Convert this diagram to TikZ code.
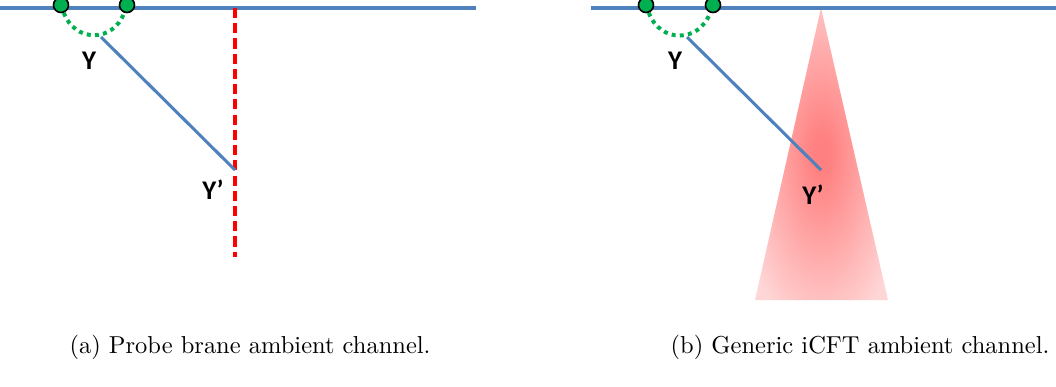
\documentclass[tikz,border=0pt]{standalone}
\usepackage{fontspec}
\newfontfamily\labelfont{Carlito}
\usepackage{tikz}
\usetikzlibrary{shadings}

\definecolor{braneblue}{RGB}{79,129,189}
\definecolor{pointgreen}{RGB}{0,176,80}
\definecolor{coneinner}{RGB}{255,128,128}
\definecolor{coneouter}{RGB}{255,214,214}
\pgfdeclareradialshading{cone}{\pgfpoint{0bp}{0bp}}{%
  color(0bp)=(coneinner); color(3bp)=(coneinner); color(32bp)=(coneouter); color(50bp)=(coneouter)}

\tikzset{
  brane/.style={braneblue, line width=1.3pt},
  geodesic/.style={pointgreen, line width=1.7pt, dash pattern=on 1.7pt off 1.8pt},
  insertion/.style={circle, draw=black, fill=pointgreen, line width=0.7pt, minimum size=6.4pt, inner sep=0pt},
  ylabel/.style={font=\labelfont\bfseries\fontsize{11.5}{12}\selectfont, inner sep=0pt},
  caption/.style={font=\fontsize{10.45}{12}\selectfont, inner sep=0pt}
}

\begin{document}
\begin{tikzpicture}[x=0.015cm, y=-0.015cm]
  \useasboundingbox (0,0) rectangle (1056,386);

  % (a) probe brane
  \coordinate (la) at (0,8);
  \coordinate (ra) at (476,8);
  \coordinate (ya) at (101,37);
  \coordinate (ypa) at (235,170);
  \coordinate (topa) at (235,8);
  \coordinate (bota) at (235,257);

  \draw [brane] (la) -- (ra);
  \draw [red, line width=1.3pt, dash pattern=on 4.3pt off 2.2pt] (topa) -- (bota);
  \draw [brane] (ya) -- (ypa);
  \node [insertion] (x1a) at (61,5) {};
  \node [insertion] (x2a) at (127,5) {};
  \draw [geodesic] (x1a.-70) to[out=-70, in=-110, looseness=1.35] (x2a.-110);
  \node [ylabel] (Ya) at (89,61) {Y};
  \node [ylabel] (Ypa) at (213,190) {Y’};

  % (b) generic iCFT
  \coordinate (lb) at (591,8);
  \coordinate (rb) at (1056,8);
  \coordinate (yb) at (687,37);
  \coordinate (ypb) at (821,170);
  \coordinate (apex) at (821,8);
  \coordinate (basel) at (755,300);
  \coordinate (baser) at (888,300);

  \shade [shading=cone] (apex) -- (baser) -- (basel) -- cycle;
  \draw [brane] (lb) -- (rb);
  \draw [brane] (yb) -- (ypb);
  \node [insertion] (x1b) at (646,5) {};
  \node [insertion] (x2b) at (713,5) {};
  \draw [geodesic] (x1b.-70) to[out=-70, in=-110, looseness=1.35] (x2b.-110);
  \node [ylabel] (Yb) at (675,61) {Y};
  \node [ylabel] (Ypb) at (813,195) {Y’};

  \node [caption] (capa) at (250,347) {(a) Probe brane ambient channel.};
  \node [caption] (capb) at (860,347) {(b) Generic iCFT ambient channel.};
\end{tikzpicture}
\end{document}
